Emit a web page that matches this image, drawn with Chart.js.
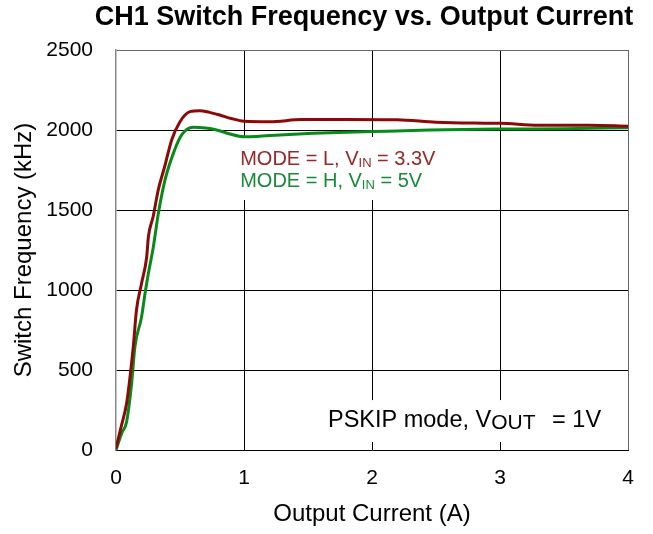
<!DOCTYPE html>
<html>
<head>
<meta charset="utf-8">
<script src="https://cdn.jsdelivr.net/npm/chart.js@4.4.1/dist/chart.umd.min.js"></script>
<style>
  html, body { margin: 0; padding: 0; background: #fff; }
  #wrap { width: 653px; height: 534px; }
</style>
</head>
<body>
<div id="wrap"><canvas id="freq"></canvas></div>
<script>
// output current (A) and switch frequency (kHz)
const modeLCurrent = [0, 0.04, 0.083, 0.11, 0.135, 0.16, 0.2, 0.24, 0.253, 0.29, 0.33, 0.38, 0.435, 0.5, 0.578, 0.656, 0.73, 0.81, 0.9, 1.0, 1.2, 1.45, 1.8, 2.2, 2.5, 2.8, 3.0, 3.3, 3.7, 4.0];
const modeLFreq    = [10, 145, 292, 460, 646, 875, 1042, 1208, 1333, 1458, 1625, 1771, 1938, 2052, 2115, 2121, 2110, 2094, 2072, 2055, 2052, 2065, 2066, 2064, 2048, 2043, 2042, 2030, 2030, 2024];

const modeHCurrent = [0, 0.044, 0.083, 0.122, 0.148, 0.2, 0.227, 0.253, 0.292, 0.331, 0.383, 0.448, 0.513, 0.604, 0.7, 0.786, 0.89, 1.0, 1.1, 1.28, 1.54, 2.0, 2.45, 2.97, 3.5, 4.0];
const modeHFreq    = [0, 104, 177, 417, 646, 833, 979, 1104, 1271, 1479, 1688, 1854, 1969, 2017, 2012, 2000, 1975, 1958, 1960, 1969, 1979, 1990, 2000, 2006, 2008, 2014];

const xTicks = [0, 1, 2, 3, 4];
const yTicks = [0, 500, 1000, 1500, 2000, 2500];

const FONT = "'Liberation Sans', Arial, sans-serif";
const RED = '#8a0a0a';
const GREEN = '#088a1a';

const toPoints = (xs, ys) => xs.map((x, i) => ({ x: x, y: ys[i] }));

// text with a subscript part, drawn left to right
function drawSub(ctx, x, y, parts, size, subSize, color) {
  ctx.fillStyle = color;
  ctx.textBaseline = 'alphabetic';
  ctx.textAlign = 'left';
  parts.forEach(p => {
    x += p.gap || 0;
    ctx.font = (p.sub ? subSize : size) + 'px ' + FONT;
    ctx.fillText(p.t, x, y + (p.sub ? 2 : 0));
    x += ctx.measureText(p.t).width;
  });
}

const notes = {
  id: 'notes',
  beforeDatasetsDraw(chart) {
    const { ctx, scales: { x, y } } = chart;
    ctx.save();
    ctx.fillStyle = '#fff';
    // white boxes behind the labels
    let l = x.getPixelForValue(0.94), r = x.getPixelForValue(2.55);
    let t = y.getPixelForValue(1956), b = y.getPixelForValue(1562);
    ctx.fillRect(l, t, r - l, b - t);
    l = x.getPixelForValue(1.6); r = x.getPixelForValue(4) - 1;
    t = y.getPixelForValue(312); b = y.getPixelForValue(50);
    ctx.fillRect(l, t, r - l, b - t);
    ctx.restore();
  },
  afterDatasetsDraw(chart) {
    const { ctx, scales: { x, y } } = chart;
    ctx.save();
    drawSub(ctx, x.getPixelForValue(0.97), y.getPixelForValue(1781),
      [{ t: 'MODE = L, V' }, { t: 'IN', sub: true }, { t: ' = 3.3V' }], 20, 13, '#962828');
    drawSub(ctx, x.getPixelForValue(0.97), y.getPixelForValue(1646),
      [{ t: 'MODE = H, V' }, { t: 'IN', sub: true }, { t: ' = 5V' }], 20, 13, '#1a8a3a');
    drawSub(ctx, x.getPixelForValue(1.656), y.getPixelForValue(146),
      [{ t: 'PSKIP mode, V' }, { t: 'OUT', sub: true }, { t: ' = 1V', gap: 10 }], 23.5, 21, '#000');
    // chart title, centred over the plot
    ctx.font = 'bold 27px ' + FONT;
    ctx.fillStyle = '#000';
    ctx.textAlign = 'center';
    ctx.textBaseline = 'middle';
    ctx.fillText('CH1 Switch Frequency vs. Output Current', 364, 18);
    ctx.restore();
  }
};

new Chart(document.getElementById('freq'), {
  type: 'line',
  data: {
    datasets: [
      {
        label: 'MODE = L, VIN = 3.3V',
        data: toPoints(modeLCurrent, modeLFreq),
        borderColor: RED,
        borderWidth: 3,
        pointRadius: 0,
        cubicInterpolationMode: 'monotone'
      },
      {
        label: 'MODE = H, VIN = 5V',
        data: toPoints(modeHCurrent, modeHFreq),
        borderColor: GREEN,
        borderWidth: 3,
        pointRadius: 0,
        cubicInterpolationMode: 'monotone'
      }
    ]
  },
  options: {
    responsive: true,
    maintainAspectRatio: false,
    animation: false,
    layout: { padding: { left: 0, right: 25, top: 50, bottom: 0 } },
    plugins: {
      legend: { display: false },
      tooltip: { enabled: false },
      title: { display: false }
    },
    scales: {
      x: {
        type: 'linear',
        min: 0,
        max: 4,
        afterFit: s => { s.height = 84; },
        afterBuildTicks: s => { s.ticks = xTicks.map(v => ({ value: v })); },
        ticks: { color: '#000', padding: 16, font: { family: FONT, size: 21 }, callback: v => String(v) },
        grid: {
          drawTicks: false,
          color: c => (c.tick && (c.tick.value === 0) ? 'rgba(0,0,0,0)' : (c.tick && c.tick.value === 4 ? '#666' : '#000'))
        },
        border: { color: '#000', width: 1 },
        title: {
          display: true,
          text: 'Output Current (A)',
          color: '#000',
          font: { family: FONT, size: 24 },
          padding: { top: 0, bottom: 5 }
        }
      },
      y: {
        min: 0,
        max: 2500,
        afterFit: s => { s.width = 116; },
        afterBuildTicks: s => { s.ticks = yTicks.map(v => ({ value: v })); },
        ticks: { color: '#000', padding: 23, font: { family: FONT, size: 21 }, callback: v => String(v) },
        grid: {
          drawTicks: false,
          color: c => (c.tick && (c.tick.value === 0) ? 'rgba(0,0,0,0)' : (c.tick && c.tick.value === 2500 ? '#666' : '#000'))
        },
        border: { color: '#888', width: 1.5 },
        title: {
          display: true,
          text: 'Switch Frequency (kHz)',
          color: '#000',
          font: { family: FONT, size: 24 },
          padding: { top: 10, bottom: 0 }
        }
      }
    }
  },
  plugins: [notes]
});
</script>
</body>
</html>
